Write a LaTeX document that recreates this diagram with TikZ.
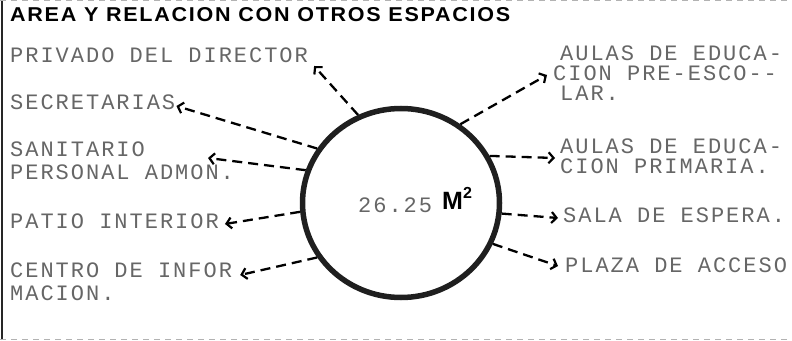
\documentclass[tikz,border=0pt]{standalone}
\usepackage{fontspec}
\usepackage{graphicx}
\usetikzlibrary{arrows.meta,shapes.geometric}
\newfontfamily\twfont[LetterSpace=9]{Liberation Mono}
\newfontfamily\hvfont[LetterSpace=8]{Liberation Sans}
\newfontfamily\hvplain{Liberation Sans}
\begin{document}
\begin{tikzpicture}[x=1pt,y=1pt,
  tw/.style={inner sep=0pt, text=black!60, text height=11pt, text depth=0pt,
     font=\twfont\fontsize{22}{22}\selectfont},
  lbl/.style={tw, anchor=base west},
  rel/.style={draw=black, line width=2.3pt, dash pattern=on 10pt off 6pt,
     -{Straight Barb[length=5pt,width=11pt,line width=2.2pt]}},
  area/.style={ellipse, draw=black!88, line width=5.5pt, minimum width=197pt,
     minimum height=189pt, inner sep=0pt},
  frame/.style={draw=black!30, line width=0.8pt, dash pattern=on 6pt off 5pt}]
\useasboundingbox (0,0) rectangle (792,340);
% page edges
\draw[line width=2pt, black!85] (1.5,0) -- (1.5,340);
\draw[frame] (0,339.4) -- (792,339.4);
\draw[frame] (0,0.6) -- (792,0.6);
% title
\node[anchor=base west, inner sep=0pt] (title) at (10,318)
  {\resizebox{500pt}{14pt}{\hvfont\bfseries AREA Y RELACION CON OTROS ESPACIOS}};
% central area
\node[area] (c) at (401,137) {};
\node[lbl] (num) at (358,127) {26.25};
\node[anchor=base west, inner sep=0pt, font=\hvplain\bfseries\fontsize{25}{25}\selectfont] (m2) at (442,130)
  {M\raisebox{11pt}{\fontsize{16}{16}\selectfont 2}};
% left labels
\node[lbl] (p1) at (10,277) {PRIVADO DEL DIRECTOR};
\node[lbl] (s1) at (10,230) {SECRETARIAS};
\node[lbl] (sa1) at (10,183) {SANITARIO};
\node[lbl] (sa2) at (10,160) {PERSONAL ADMON.};
\node[lbl] (pa1) at (10,111) {PATIO INTERIOR};
\node[lbl] (ce1) at (10,63) {CENTRO DE INFOR};
\node[lbl] (ce2) at (10,40) {MACION.};
% right labels
\node[lbl] (pe1) at (560,279) {AULAS DE EDUCA-};
\node[lbl] (pe2) at (553,259) {CION PRE-ESCO--};
\node[lbl] (pe3) at (560,239) {LAR.};
\node[lbl] (pr1) at (560,186) {AULAS DE EDUCA-};
\node[lbl] (pr2) at (560,166) {CION PRIMARIA.};
\node[lbl] (sl) at (563,117) {SALA DE ESPERA.};
\node[lbl] (pl) at (565,67) {PLAZA DE ACCESO};
% relations
\draw[rel] (c.116) -- ([shift={(6pt,-3pt)}]p1.base east);
\draw[rel] (c.147) -- ([shift={(1pt,4pt)}]s1.base east);
\draw[rel] (c.161) -- ([shift={(198pt,22pt)}]sa2.base west);
\draw[rel] (c.185.5) -- ([shift={(6pt,5pt)}]pa1.base east);
\draw[rel] (c.213.7) -- ([shift={(8pt,2pt)}]ce1.base east);
\draw[rel] (c.53) -- ([shift={(-6pt,6pt)}]pe2.base west);
\draw[rel] (c.28) -- ([shift={(-5pt,16pt)}]pr2.base west);
\draw[rel] (c.-6) -- ([shift={(-5pt,5pt)}]sl.base west);
\draw[rel] (c.-24) -- ([shift={(-7pt,7pt)}]pl.base west);
\end{tikzpicture}
\end{document}
